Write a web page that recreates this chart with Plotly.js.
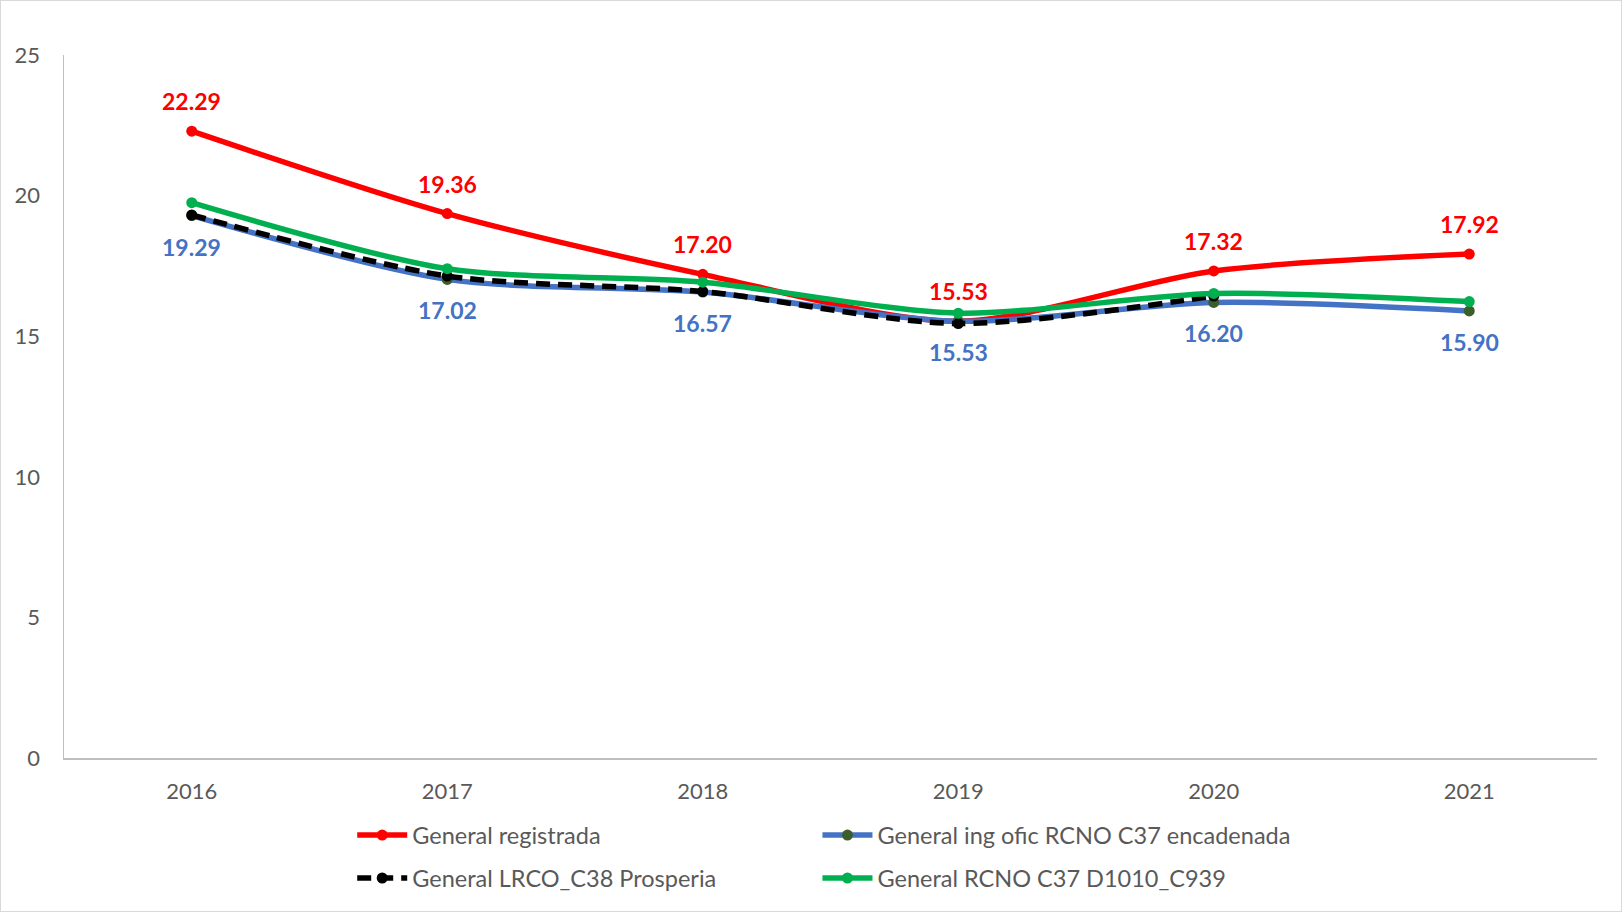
<!DOCTYPE html>
<html>
<head>
<meta charset="utf-8">
<script src="https://cdn.plot.ly/plotly-3.0.1.min.js"></script>
<style>
html,body{margin:0;padding:0;background:#fff;}
#chart{width:1620px;height:910px;border:1px solid #d9d9d9;}
</style>
</head>
<body>
<div id="chart"></div>
<script>
var years = ['2016','2017','2018','2019','2020','2021'];
var registrada = [22.29, 19.36, 17.20, 15.53, 17.32, 17.92];
var encadenada = [19.29, 17.02, 16.57, 15.53, 16.20, 15.90];
var prosperia = [19.31, 17.14, 16.59, 15.45, 16.43];
var d1010 = [19.75, 17.40, 16.92, 15.82, 16.52, 16.23];
var yTicks = [0, 5, 10, 15, 20, 25];

var traces = [
  {x: years, y: registrada, name: 'General registrada', mode: 'lines+markers',
   line: {color: '#FF0000', width: 5.5, shape: 'spline', smoothing: 0.8},
   marker: {color: '#FF0000', size: 11}, legend: 'legend'},
  {x: years, y: encadenada, name: 'General ing ofic RCNO C37 encadenada', mode: 'lines+markers',
   line: {color: '#4472C4', width: 5.5, shape: 'spline', smoothing: 0.8},
   marker: {color: '#3B5E2B', size: 11}, legend: 'legend2'},
  {x: years.slice(0, prosperia.length), y: prosperia, name: 'General LRCO_C38 Prosperia', mode: 'lines+markers',
   line: {color: '#000000', width: 5.5, shape: 'spline', smoothing: 0.8, dash: '14px,8px'},
   marker: {color: '#000000', size: 11}, legend: 'legend3'},
  {x: years, y: d1010, name: 'General RCNO C37 D1010_C939', mode: 'lines+markers',
   line: {color: '#00B050', width: 5.5, shape: 'spline', smoothing: 0.8},
   marker: {color: '#00B050', size: 11}, legend: 'legend4'}
];

var labelFont = 'Lato, "Open Sans", sans-serif';
var annotations = [];
registrada.forEach(function(v, i){
  annotations.push({x: i, y: v, xref: 'x', yref: 'y', text: '<b>' + v.toFixed(2) + '</b>', showarrow: false,
    yshift: 30, font: {family: labelFont, size: 23, color: '#FF0000'}});
});
encadenada.forEach(function(v, i){
  annotations.push({x: i, y: v, xref: 'x', yref: 'y', text: '<b>' + v.toFixed(2) + '</b>', showarrow: false,
    yshift: -31, font: {family: labelFont, size: 23, color: '#4472C4'}});
});

function leg(x, y){
  return {orientation: 'h', xanchor: 'left', yanchor: 'middle', x: x, y: y,
    itemwidth: 50, bgcolor: 'rgba(0,0,0,0)',
    font: {family: labelFont, size: 23.5, color: '#595959'}};
}

var layout = {
  width: 1620, height: 910,
  margin: {l: 63, r: 24, t: 54, b: 153, autoexpand: false},
  paper_bgcolor: '#ffffff', plot_bgcolor: '#ffffff',
  showlegend: true,
  xaxis: {type: 'category', range: [-0.5, 5.5], showgrid: false, zeroline: false,
    showline: true, linecolor: '#BFBFBF', linewidth: 1.5, ticks: '',
    ticklabelstandoff: 13, automargin: false,
    tickfont: {family: labelFont, size: 22, color: '#595959'}},
  yaxis: {range: [0, 25], tickvals: yTicks, ticktext: yTicks.map(String), showgrid: false, zeroline: false,
    showline: true, linecolor: '#BFBFBF', linewidth: 1.5, ticks: '',
    ticklabelstandoff: 18, automargin: false,
    tickfont: {family: labelFont, size: 22, color: '#595959'}},
  legend: leg(0.188, -0.110),
  legend2: leg(0.4915, -0.110),
  legend3: leg(0.188, -0.171),
  legend4: leg(0.4915, -0.171),
  annotations: annotations
};

Plotly.newPlot('chart', traces, layout, {displayModeBar: false, staticPlot: true});
</script>
</body>
</html>
